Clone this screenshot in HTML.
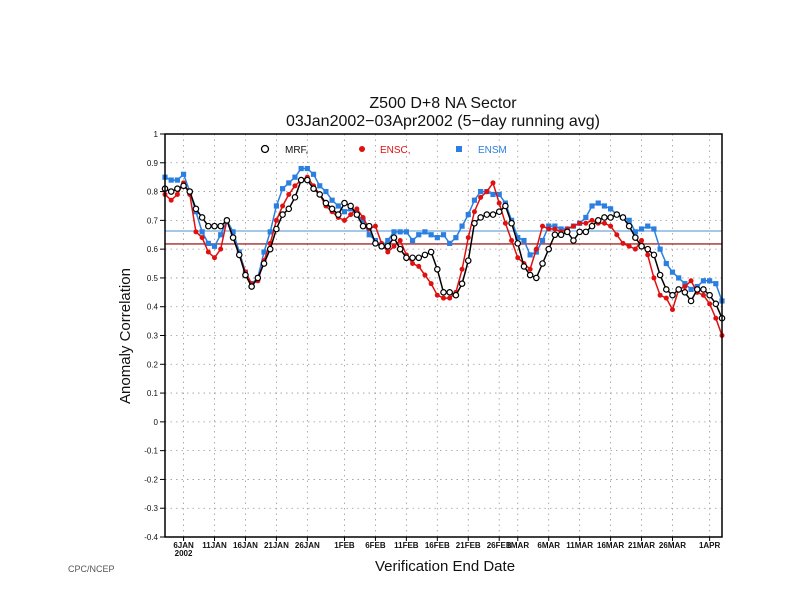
<!DOCTYPE html>
<html><head><meta charset="utf-8"><style>
html,body{margin:0;padding:0;background:#fff;width:792px;height:612px;overflow:hidden}
svg{display:block;font-family:"Liberation Sans",sans-serif}
</style></head><body>
<svg id="chart" width="792" height="612" viewBox="0 0 792 612" xmlns="http://www.w3.org/2000/svg">
<text x="443" y="108" text-anchor="middle" font-size="16" fill="#111">Z500 D+8 NA Sector</text>
<text x="443" y="126" text-anchor="middle" font-size="16" fill="#111">03Jan2002−03Apr2002 (5−day running avg)</text>
<text transform="translate(130,336) rotate(-90)" text-anchor="middle" font-size="15" fill="#111">Anomaly Correlation</text>
<text x="445" y="571" text-anchor="middle" font-size="15" fill="#111">Verification End Date</text>
<text x="68" y="572" font-size="9" fill="#555">CPC/NCEP</text>
<g id="grid"></g>
<g id="marks"></g>
<rect x="165" y="134" width="557" height="403" fill="none" stroke="#000" stroke-width="1.5"/>
<g id="axes"></g>
<g>
<circle cx="265" cy="149" r="3.5" fill="#fff" stroke="#000" stroke-width="1.3"/>
<text x="285" y="153" font-size="10" fill="#111">MRF,</text>
<circle cx="362" cy="149" r="3" fill="#e01010"/>
<text x="380" y="153" font-size="10" fill="#e01010">ENSC,</text>
<rect x="456" y="146" width="6" height="6" fill="#2a7fe0"/>
<text x="478" y="153" font-size="10" fill="#2a7fe0">ENSM</text>
</g>
</svg>
<script>
const yTicks=[1,0.9,0.8,0.7,0.6,0.5,0.4,0.3,0.2,0.1,0,-0.1,-0.2,-0.3,-0.4];
const yTickLabels=["1","0.9","0.8","0.7","0.6","0.5","0.4","0.3","0.2","0.1","0","-0.1","-0.2","-0.3","-0.4"];
const xTickDays=[3,8,13,18,23,29,34,39,44,49,54,57,62,67,72,77,82,88];
const xTickLabels=["6JAN","11JAN","16JAN","21JAN","26JAN","1FEB","6FEB","11FEB","16FEB","21FEB","26FEB","1MAR","6MAR","11MAR","16MAR","21MAR","26MAR","1APR"];
const mrf=[0.81,0.80,0.81,0.82,0.80,0.74,0.71,0.68,0.68,0.68,0.70,0.64,0.58,0.51,0.47,0.50,0.55,0.60,0.67,0.72,0.74,0.78,0.84,0.84,0.81,0.79,0.76,0.74,0.72,0.76,0.75,0.72,0.68,0.68,0.62,0.61,0.61,0.64,0.60,0.57,0.57,0.57,0.58,0.59,0.53,0.45,0.45,0.44,0.48,0.56,0.69,0.71,0.72,0.72,0.73,0.75,0.69,0.62,0.54,0.51,0.50,0.55,0.60,0.65,0.65,0.66,0.63,0.66,0.66,0.68,0.70,0.71,0.71,0.72,0.71,0.68,0.64,0.61,0.60,0.58,0.51,0.46,0.44,0.46,0.45,0.42,0.46,0.46,0.44,0.41,0.36];
const ensc=[0.79,0.77,0.79,0.83,0.79,0.66,0.64,0.59,0.57,0.60,0.70,0.64,0.58,0.52,0.48,0.49,0.56,0.62,0.70,0.75,0.79,0.82,0.84,0.85,0.82,0.79,0.75,0.73,0.71,0.70,0.72,0.74,0.71,0.67,0.68,0.62,0.59,0.61,0.63,0.58,0.55,0.54,0.51,0.48,0.44,0.43,0.43,0.45,0.53,0.64,0.73,0.78,0.80,0.83,0.76,0.69,0.63,0.57,0.55,0.53,0.60,0.68,0.67,0.67,0.66,0.67,0.68,0.69,0.69,0.70,0.69,0.69,0.68,0.65,0.62,0.61,0.60,0.63,0.58,0.50,0.44,0.43,0.39,0.46,0.47,0.49,0.45,0.44,0.41,0.36,0.30];
const ensm=[0.85,0.84,0.84,0.86,0.80,0.73,0.66,0.62,0.61,0.65,0.70,0.66,0.59,0.52,0.48,0.50,0.59,0.66,0.75,0.81,0.83,0.85,0.88,0.88,0.86,0.82,0.80,0.77,0.75,0.73,0.74,0.72,0.70,0.65,0.63,0.61,0.63,0.66,0.66,0.66,0.63,0.65,0.66,0.65,0.64,0.65,0.62,0.64,0.68,0.72,0.77,0.80,0.80,0.79,0.79,0.76,0.70,0.64,0.63,0.58,0.59,0.63,0.68,0.68,0.67,0.67,0.68,0.69,0.71,0.75,0.76,0.75,0.74,0.72,0.71,0.70,0.66,0.67,0.68,0.67,0.60,0.55,0.52,0.50,0.48,0.46,0.47,0.49,0.49,0.48,0.42];
const ensmMean=[0.663];
const enscMean=[0.618];
const NS="http://www.w3.org/2000/svg";
const X0=165,X1=722,Y0=537,Y1=134,DAYS=90;
function xs(d){return X0+(X1-X0)*d/DAYS;}
function ys(v){return Y0-(Y0-Y1)*(v+0.4)/1.4;}
function mk(tag,attrs,parent){const e=document.createElementNS(NS,tag);for(const k in attrs)e.setAttribute(k,attrs[k]);parent.appendChild(e);return e;}
const grid=document.getElementById('grid'),axes=document.getElementById('axes'),marks=document.getElementById('marks');
yTicks.forEach((v,i)=>{
  if(i>0&&i<yTicks.length-1){const g=mk('line',{x1:X0,x2:X1,y1:ys(v),y2:ys(v),stroke:'#999','stroke-width':0.8,'stroke-dasharray':'1.5,4'},grid);
  
  }
  const t=mk('line',{x1:X0-5,x2:X0,y1:ys(v),y2:ys(v),stroke:'#000','stroke-width':1},axes);
  
  
  const l=mk('text',{x:X0-7,y:ys(v)+3,'text-anchor':'end','font-size':8,fill:'#111'},axes);
  
  
  l.textContent=yTickLabels[i];
});
xTickDays.forEach((d,i)=>{
  const g=mk('line',{x1:xs(d),x2:xs(d),y1:Y1,y2:Y0,stroke:'#999','stroke-width':0.8,'stroke-dasharray':'1.5,4'},grid);
  
  
  const t=mk('line',{x1:xs(d),x2:xs(d),y1:Y0,y2:Y0+4,stroke:'#000','stroke-width':1},axes);
  
  
  const l=mk('text',{x:xs(d),y:Y0+11,'text-anchor':'middle','font-size':8,'font-weight':'bold',fill:'#111'},axes);
  
  
  l.textContent=xTickLabels[i];
});
const yr=mk('text',{x:xs(3),y:Y0+19,'text-anchor':'middle','font-size':8,'font-weight':'bold',fill:'#111'},axes);


yr.textContent='2002';
const h1=mk('line',{x1:X0,x2:X1,y1:ys(ensmMean[0]),y2:ys(ensmMean[0]),stroke:'#6fa8dc','stroke-width':1.3},marks);


const h2=mk('line',{x1:X0,x2:X1,y1:ys(enscMean[0]),y2:ys(enscMean[0]),stroke:'#a52a2a','stroke-width':1.3},marks);


function series(arr,color,name,shape){
  const pts=arr.map((v,i)=>xs(i).toFixed(1)+','+ys(v).toFixed(1)).join(' ');
  const p=mk('polyline',{points:pts,fill:'none',stroke:color,'stroke-width':1.5},marks);
  
  
  arr.forEach((v,i)=>{
    let m;
    if(shape==='sq')m=mk('rect',{x:xs(i)-2.6,y:ys(v)-2.6,width:5.2,height:5.2,fill:color},marks);
    else if(shape==='open')m=mk('circle',{cx:xs(i),cy:ys(v),r:2.7,fill:'#fff',stroke:color,'stroke-width':1.2},marks);
    else m=mk('circle',{cx:xs(i),cy:ys(v),r:2.5,fill:color},marks);
    
    
  });
}
series(ensm,'#2a7fe0','ensm','sq');
series(ensc,'#e01010','ensc','dot');
series(mrf,'#000','mrf','open');
</script>
</body></html>
